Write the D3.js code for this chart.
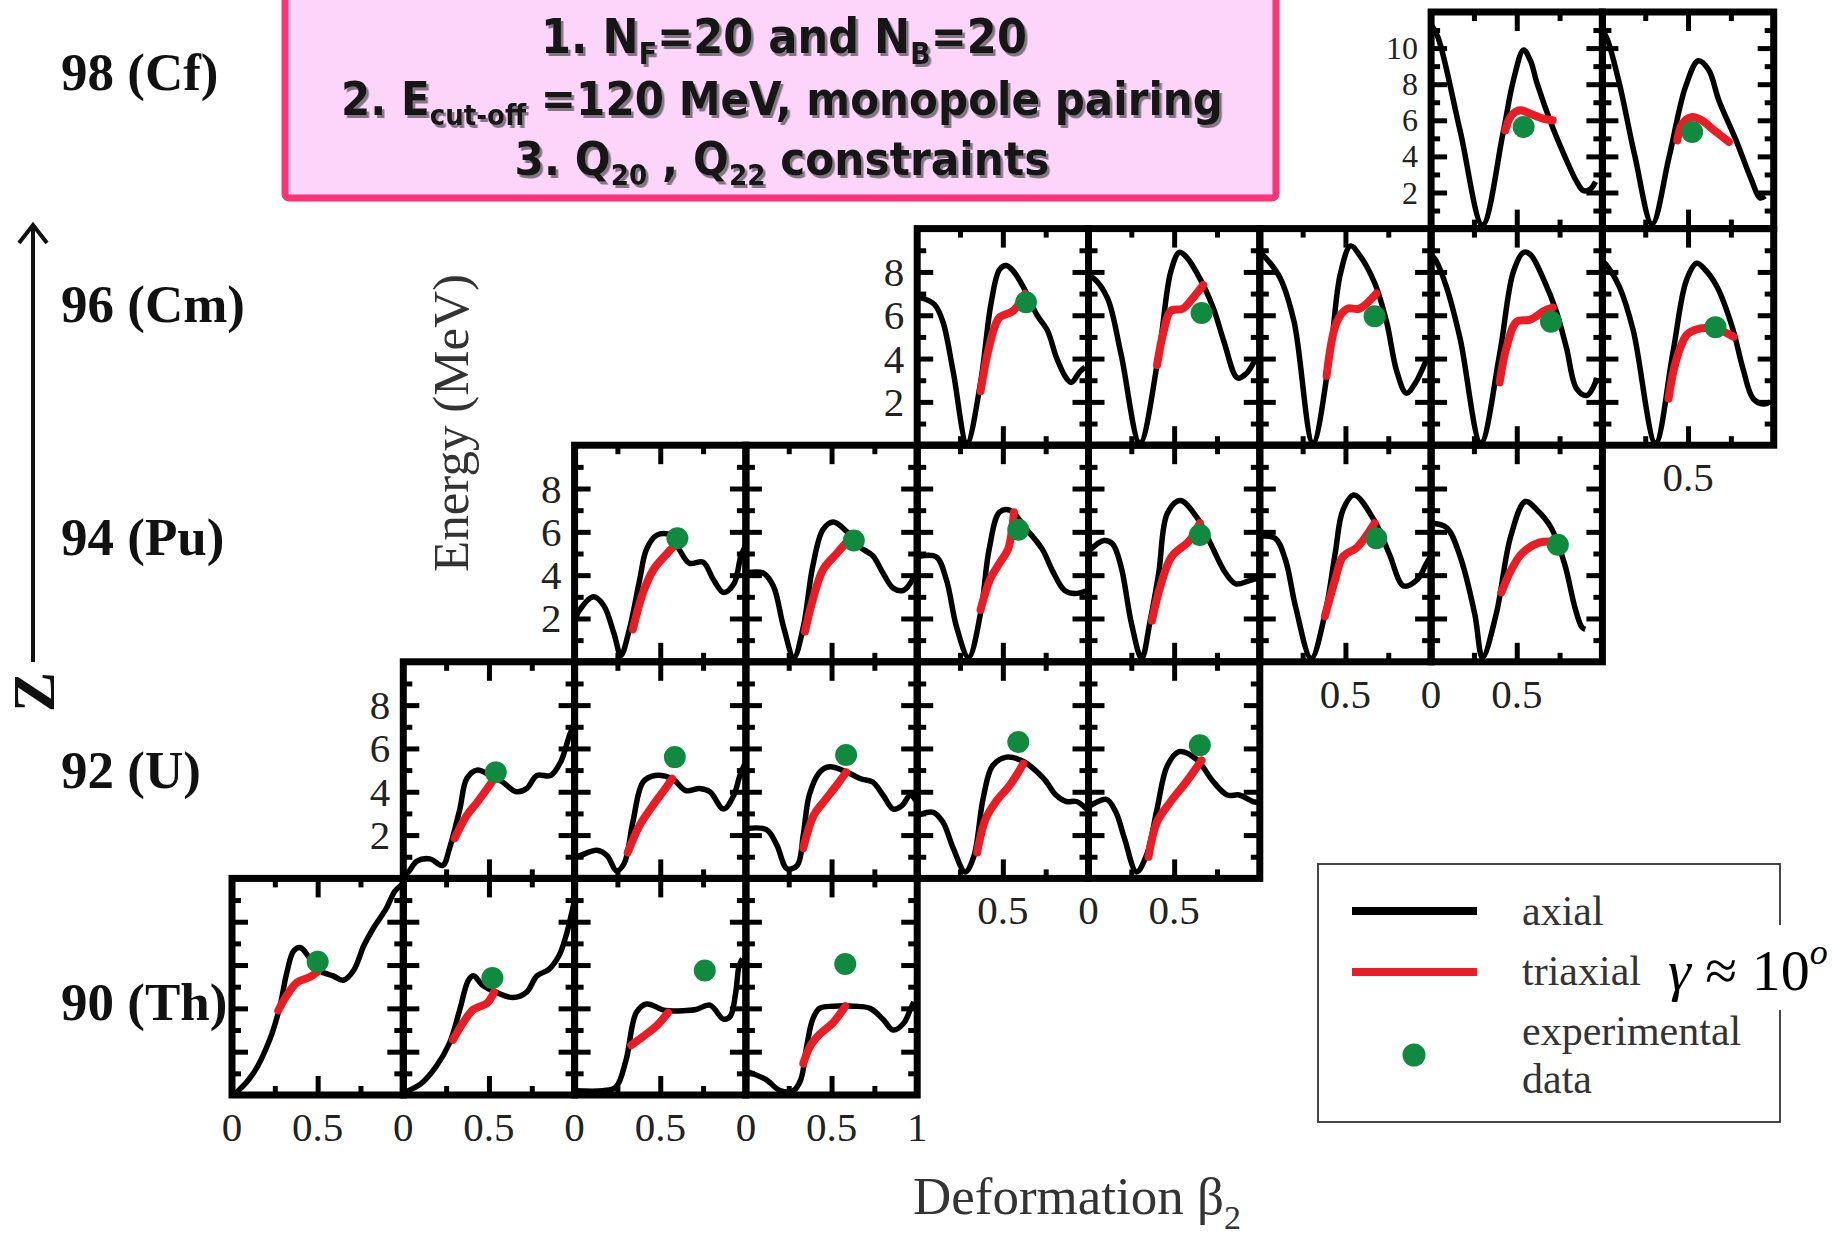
<!DOCTYPE html>
<html>
<head>
<meta charset="utf-8">
<script src="https://cdn.jsdelivr.net/npm/d3@7"></script>
<style>
  html, body { margin: 0; padding: 0; background: #fff; }
  svg { display: block; }
</style>
</head>
<body>
<svg id="chart" width="1844" height="1241"></svg>
<script>
// ---- Nuclei rows (top to bottom) ----
const rowLabels = ["98 (Cf)", "96 (Cm)", "94 (Pu)", "92 (U)", "90 (Th)"];
const rowFirstCol = [7, 4, 2, 1, 0];
const rowEnergyMax = [12, 10, 10, 10, 10];
const rowEnergyLabels = [[2, 4, 6, 8, 10], [2, 4, 6, 8], [2, 4, 6, 8], [2, 4, 6, 8], []];

// ---- Axial fission barriers, [beta2, E (MeV)] per isotope, left to right ----
const axialCf = [
  [[0,11.3],[0.04,10.6],[0.17,5.4],[0.30,0.2],[0.42,5.3],[0.48,8.2],[0.54,9.9],[0.58,9.3],[0.62,8.0],[0.71,5.6],[0.79,3.8],[0.85,2.6],[0.89,2.1],[0.93,2.2],[0.96,2.6]],
  [[0,11.0],[0.03,10.45],[0.10,8.0],[0.19,4.0],[0.29,0.25],[0.39,4.0],[0.485,7.85],[0.56,9.3],[0.62,8.8],[0.68,7.1],[0.78,4.9],[0.87,2.7],[0.92,1.7],[0.95,1.8]]
];
const axialCm = [
  [[0,6.8],[0.02,6.8],[0.10,6.5],[0.15,5.7],[0.21,3.4],[0.29,0.1],[0.37,2.9],[0.43,6.5],[0.48,8.1],[0.52,8.3],[0.56,8.05],[0.62,7.3],[0.70,6.0],[0.76,5.3],[0.815,4.0],[0.87,3.1],[0.90,2.9],[0.95,3.4],[0.98,3.6]],
  [[0,7.8],[0.03,7.7],[0.11,6.8],[0.19,4.2],[0.30,0.1],[0.41,4.2],[0.48,8.0],[0.53,8.9],[0.57,8.7],[0.65,7.7],[0.73,6.3],[0.79,4.8],[0.87,3.1],[0.92,3.3],[0.97,3.9]],
  [[0,8.9],[0.04,8.6],[0.12,7.7],[0.20,5.7],[0.31,0.1],[0.41,4.2],[0.47,7.9],[0.53,9.2],[0.58,8.8],[0.67,7.5],[0.74,5.7],[0.80,3.4],[0.856,2.4],[0.91,2.9],[0.97,3.9]],
  [[0,8.8],[0.03,8.5],[0.09,7.3],[0.17,4.9],[0.29,0.1],[0.40,4.2],[0.48,8.0],[0.54,8.9],[0.58,8.8],[0.66,7.6],[0.73,6.2],[0.79,4.5],[0.85,2.6],[0.91,2.3],[0.97,3.1]],
  [[0,8.5],[0.035,8.2],[0.10,7.3],[0.18,5.3],[0.31,0.1],[0.41,4.2],[0.49,7.6],[0.55,8.4],[0.60,8.1],[0.67,7.3],[0.76,5.4],[0.82,3.55],[0.88,2.15],[0.94,1.9],[0.98,2.0]]
];
const axialPu = [
  [[0,1.9],[0.03,2.4],[0.11,3.0],[0.17,2.6],[0.23,1.3],[0.27,0.3],[0.32,1.5],[0.38,3.8],[0.42,5.2],[0.48,5.85],[0.56,5.85],[0.61,5.2],[0.67,4.55],[0.75,4.6],[0.81,3.8],[0.87,3.2],[0.93,3.6],[0.97,4.85],[1.0,5.4]],
  [[0,4.1],[0.10,4.1],[0.16,3.5],[0.22,1.6],[0.28,0.2],[0.335,1.6],[0.39,4.4],[0.45,6.1],[0.51,6.45],[0.59,6.0],[0.665,5.3],[0.74,4.9],[0.80,4.1],[0.86,3.4],[0.92,3.3],[0.98,3.9]],
  [[0,4.85],[0.11,4.85],[0.17,3.8],[0.23,1.6],[0.30,0.2],[0.37,2.25],[0.42,5.2],[0.48,6.9],[0.54,7.0],[0.64,6.1],[0.73,5.2],[0.79,4.2],[0.86,3.3],[0.92,3.15],[1.0,3.3]],
  [[0,5.1],[0.09,5.6],[0.14,5.45],[0.19,4.4],[0.25,1.8],[0.31,0.15],[0.36,1.9],[0.41,4.1],[0.46,6.85],[0.535,7.45],[0.63,6.7],[0.71,5.5],[0.80,4.1],[0.86,3.6],[0.94,3.75],[1.0,3.9]],
  [[0,5.8],[0.09,5.7],[0.15,4.7],[0.21,2.5],[0.30,0.15],[0.38,2.2],[0.44,5.0],[0.485,7.0],[0.55,7.7],[0.67,6.5],[0.755,5.0],[0.84,3.5],[0.92,3.8],[0.97,4.5],[1.0,4.9]],
  [[0,6.4],[0.09,6.2],[0.17,4.85],[0.255,2.2],[0.30,0.2],[0.38,2.2],[0.465,5.8],[0.55,7.4],[0.62,7.0],[0.70,6.2],[0.78,4.5],[0.84,2.5],[0.88,1.6],[0.90,1.5]]
];
const axialU = [
  [[0,0.1],[0.03,0.3],[0.08,0.8],[0.155,0.9],[0.23,0.6],[0.27,1.4],[0.33,3.2],[0.37,4.6],[0.43,5.0],[0.51,4.75],[0.58,4.45],[0.66,4.0],[0.72,4.15],[0.78,4.75],[0.86,4.75],[0.92,5.4],[0.97,6.6],[1.0,7.2]],
  [[0,1.0],[0.03,1.05],[0.13,1.3],[0.19,1.05],[0.245,0.35],[0.29,0.7],[0.34,2.6],[0.40,4.45],[0.47,4.75],[0.57,4.6],[0.65,4.05],[0.73,4.15],[0.79,4.0],[0.87,3.2],[0.93,3.85],[0.965,4.75],[1.0,5.4]],
  [[0,2.3],[0.12,2.25],[0.18,1.55],[0.24,0.45],[0.30,0.6],[0.335,2.0],[0.37,3.85],[0.43,4.9],[0.49,5.15],[0.59,4.9],[0.67,4.6],[0.74,4.45],[0.80,3.85],[0.86,3.2],[0.91,3.35],[0.96,3.85],[0.99,3.6]],
  [[0,2.9],[0.094,3.05],[0.15,2.6],[0.21,1.4],[0.28,0.3],[0.33,1.0],[0.385,3.7],[0.44,5.2],[0.52,5.6],[0.62,5.4],[0.74,4.6],[0.81,3.85],[0.87,3.55],[0.93,3.55],[0.99,3.2]],
  [[0,3.3],[0.105,3.65],[0.16,3.05],[0.21,1.85],[0.28,0.3],[0.34,1.1],[0.40,3.2],[0.46,5.2],[0.53,5.85],[0.63,5.5],[0.73,4.45],[0.81,3.85],[0.88,3.85],[0.96,3.55],[1.0,3.5]]
];
const axialTh = [
  [[0,0],[0.03,0.15],[0.125,1.0],[0.22,2.55],[0.28,4.1],[0.32,5.65],[0.36,6.65],[0.40,6.8],[0.455,6.3],[0.51,5.75],[0.59,5.5],[0.65,5.3],[0.71,5.75],[0.77,6.9],[0.825,7.7],[0.90,8.6],[0.95,9.4],[0.99,9.7]],
  [[0,0.1],[0.10,0.5],[0.19,1.3],[0.27,2.4],[0.33,3.95],[0.38,5.3],[0.41,5.5],[0.465,5.05],[0.54,4.75],[0.64,4.5],[0.72,4.75],[0.78,5.5],[0.85,5.8],[0.91,6.45],[0.95,7.35],[0.98,8.3],[1.0,9.0]],
  [[0,0.2],[0.165,0.2],[0.24,0.35],[0.30,1.6],[0.36,3.8],[0.42,4.2],[0.53,3.9],[0.65,3.9],[0.71,3.95],[0.79,4.15],[0.87,3.5],[0.91,3.65],[0.94,4.7],[0.96,5.95],[0.98,6.3]],
  [[0,1.1],[0.035,1.0],[0.12,0.7],[0.20,0.2],[0.277,0.2],[0.32,0.7],[0.355,2.25],[0.39,3.5],[0.43,4.0],[0.51,4.1],[0.63,4.1],[0.725,4.0],[0.80,3.5],[0.86,3.0],[0.92,3.3],[0.96,3.95],[0.98,4.3]]
];

// ---- Triaxial (gamma ~ 10 deg) paths around the inner barrier ----
const triaxialCf = [
  [[0.433,5.44],[0.47,6.28],[0.52,6.56],[0.577,6.37],[0.654,6.09],[0.71,6.0]],
  [[0.437,4.89],[0.466,5.8],[0.524,6.18],[0.58,6.0],[0.64,5.54],[0.738,4.8]]
];
const triaxialCm = [
  [[0.37,2.5],[0.41,4.2],[0.45,5.4],[0.48,5.9],[0.56,6.2],[0.63,7.0]],
  [[0.40,3.7],[0.44,5.3],[0.48,6.2],[0.55,6.3],[0.61,6.8],[0.67,7.4]],
  [[0.39,3.2],[0.45,5.7],[0.51,6.3],[0.58,6.3],[0.68,7.0]],
  [[0.40,2.9],[0.44,4.5],[0.50,5.7],[0.58,5.8],[0.66,6.2],[0.71,6.35]],
  [[0.386,2.15],[0.43,3.9],[0.493,5.1],[0.55,5.35],[0.67,5.35],[0.766,5.0]]
];
const triaxialPu = [
  [[0.34,1.5],[0.40,3.2],[0.46,4.25],[0.54,5.0],[0.60,5.5]],
  [[0.345,1.4],[0.39,2.85],[0.45,4.25],[0.53,5.0],[0.58,5.45]],
  [[0.37,2.4],[0.425,3.8],[0.48,4.55],[0.53,5.2],[0.55,5.9],[0.565,6.9]],
  [[0.37,1.9],[0.42,3.5],[0.485,4.85],[0.59,5.6],[0.65,6.4]],
  [[0.38,2.1],[0.44,3.8],[0.485,4.85],[0.57,5.3],[0.67,6.4]],
  [[0.41,3.2],[0.465,4.2],[0.53,5.0],[0.63,5.5],[0.72,5.55]]
];
const triaxialU = [
  [[0.30,1.85],[0.37,2.9],[0.43,3.5],[0.49,4.15],[0.53,4.6]],
  [[0.31,1.2],[0.38,2.45],[0.46,3.4],[0.53,4.15],[0.57,4.6]],
  [[0.335,1.4],[0.395,2.9],[0.45,3.5],[0.53,4.3],[0.585,4.9]],
  [[0.35,1.2],[0.40,2.75],[0.46,3.55],[0.54,4.3],[0.62,5.3]],
  [[0.35,1.0],[0.40,2.6],[0.48,3.55],[0.57,4.45],[0.66,5.45]]
];
const triaxialTh = [
  [[0.27,3.9],[0.32,4.6],[0.38,5.2],[0.455,5.45],[0.50,5.7]],
  [[0.29,2.55],[0.35,3.35],[0.41,3.95],[0.49,4.25],[0.53,4.75]],
  [[0.33,2.3],[0.40,2.7],[0.48,3.2],[0.545,3.8]],
  [[0.335,1.45],[0.375,2.25],[0.43,2.8],[0.51,3.35],[0.58,4.1]]
];

// ---- Experimental inner barrier heights, [beta2, E] ----
const exptCf = [[0.54,5.63],[0.524,5.35]];
const exptCm = [[0.635,6.6],[0.66,6.1],[0.67,5.95],[0.70,5.7],[0.66,5.45]];
const exptPu = [[0.60,5.7],[0.63,5.6],[0.59,6.1],[0.65,5.85],[0.68,5.7],[0.74,5.4]];
const exptU  = [[0.54,4.9],[0.585,5.6],[0.585,5.7],[0.59,6.3],[0.65,6.15]];
const exptTh = [[0.50,6.15],[0.52,5.4],[0.76,5.75],[0.58,6.05]];

// ---- Beta2 tick labels under exposed panel bottoms: [row, col, beta2, text] ----
const betaTickLabels = [
  [4,0,0,"0"],[4,0,0.5,"0.5"],[4,1,0,"0"],[4,1,0.5,"0.5"],[4,2,0,"0"],[4,2,0.5,"0.5"],[4,3,0,"0"],[4,3,0.5,"0.5"],[4,3,1,"1"],
  [3,4,0.5,"0.5"],[3,5,0,"0"],[3,5,0.5,"0.5"],
  [2,6,0.5,"0.5"],[2,7,0,"0"],[2,7,0.5,"0.5"],
  [1,8,0.5,"0.5"]
];

// ---- Legend entries ----
const legendItems = ["axial", "triaxial", "experimental", "data"];

// ---- Settings box lines ----
const noteLines = [
  [["1. N"],["F","sub"],["=20 and N"],["B","sub"],["=20"]],
  [["2. E"],["cut-off","sub"],[" =120 MeV, monopole pairing"]],
  [["3. Q"],["20","sub"],[" , Q"],["22","sub"],[" constraints"]]
];

// =====================================================================
const rowAxial = [axialCf, axialCm, axialPu, axialU, axialTh];
const rowTri   = [triaxialCf, triaxialCm, triaxialPu, triaxialU, triaxialTh];
const rowExpt  = [exptCf, exptCm, exptPu, exptU, exptTh];

const svg = d3.select("#chart");
const left0 = 232, top0 = 12, pw = 171.3, ph = 216.6;
const serif = "Liberation Serif, 'Times New Roman', serif";
const BLACK = "#000", RED = "#ec1c24", GREEN = "#0f8a3f";

const defs = svg.append("defs");
const shadow = defs.append("filter").attr("id", "textShadow")
  .attr("x", "-5%").attr("y", "-20%").attr("width", "110%").attr("height", "150%");
shadow.append("feDropShadow").attr("dx", 2.5).attr("dy", 3).attr("stdDeviation", 0.7)
  .attr("flood-color", "#7d717d").attr("flood-opacity", 0.95);

const curveLayer = svg.append("g");
const frameLayer = svg.append("g");
const textLayer = svg.append("g");

const scalesFor = (r, c) => {
  const px = left0 + c * pw, py = top0 + r * ph;
  return {
    px, py,
    x: d3.scaleLinear().domain([0, 1]).range([px, px + pw]),
    y: d3.scaleLinear().domain([0, rowEnergyMax[r]]).range([py + ph, py])
  };
};

const pathGen = (xs, ys) => d3.line()
  .x(d => xs(d[0])).y(d => ys(d[1]))
  .curve(d3.curveCatmullRom.alpha(0.5));

function styleTicks(sel) {
  sel.select(".domain").remove();
  sel.selectAll(".tick line").attr("stroke", BLACK).attr("stroke-width", 5);
  sel.selectAll(".tick text").remove();
}

rowLabels.forEach((label, r) => {
  const emax = rowEnergyMax[r];
  const majorE = d3.range(2, emax, 2);
  const minorE = d3.range(1, emax, 2);
  rowAxial[r].forEach((pts, i) => {
    const c = rowFirstCol[r] + i;
    const s = scalesFor(r, c);
    const id = `clip-${r}-${c}`;
    defs.append("clipPath").attr("id", id)
      .append("rect").attr("x", s.px).attr("y", s.py).attr("width", pw).attr("height", ph);

    const g = curveLayer.append("g").attr("clip-path", `url(#${id})`);
    g.append("path").attr("d", pathGen(s.x, s.y)(pts))
      .attr("fill", "none").attr("stroke", BLACK).attr("stroke-width", 5.5)
      .attr("stroke-linejoin", "round");
    g.append("path").attr("d", pathGen(s.x, s.y)(rowTri[r][i]))
      .attr("fill", "none").attr("stroke", RED).attr("stroke-width", 8)
      .attr("stroke-linecap", "round").attr("stroke-linejoin", "round");
    const e = rowExpt[r][i];
    curveLayer.append("circle").attr("cx", s.x(e[0])).attr("cy", s.y(e[1]))
      .attr("r", 11).attr("fill", GREEN);

    // frame with inward ticks on all four sides
    const f = frameLayer.append("g");
    f.append("g").attr("transform", `translate(0,${s.py + ph})`)
      .call(d3.axisBottom(s.x).tickValues([0.5]).tickSize(-19)).call(styleTicks);
    f.append("g").attr("transform", `translate(0,${s.py + ph})`)
      .call(d3.axisBottom(s.x).tickValues([0.25, 0.75]).tickSize(-9)).call(styleTicks);
    f.append("g").attr("transform", `translate(0,${s.py})`)
      .call(d3.axisTop(s.x).tickValues([0.5]).tickSize(-19)).call(styleTicks);
    f.append("g").attr("transform", `translate(0,${s.py})`)
      .call(d3.axisTop(s.x).tickValues([0.25, 0.75]).tickSize(-9)).call(styleTicks);
    f.append("g").attr("transform", `translate(${s.px},0)`)
      .call(d3.axisLeft(s.y).tickValues(majorE).tickSize(-16)).call(styleTicks);
    f.append("g").attr("transform", `translate(${s.px},0)`)
      .call(d3.axisLeft(s.y).tickValues(minorE).tickSize(-9)).call(styleTicks);
    f.append("g").attr("transform", `translate(${s.px + pw},0)`)
      .call(d3.axisRight(s.y).tickValues(majorE).tickSize(-16)).call(styleTicks);
    f.append("g").attr("transform", `translate(${s.px + pw},0)`)
      .call(d3.axisRight(s.y).tickValues(minorE).tickSize(-9)).call(styleTicks);
    f.append("rect").attr("x", s.px).attr("y", s.py).attr("width", pw).attr("height", ph)
      .attr("fill", "none").attr("stroke", BLACK).attr("stroke-width", 7);
  });

  // energy tick labels left of the first panel of the row
  // (the taller Cf scale packs its labels closer, so they are set a little smaller)
  const s0 = scalesFor(r, rowFirstCol[r]);
  const labelSize = emax > 10 ? 32 : 41;
  rowEnergyLabels[r].forEach(v => {
    textLayer.append("text").attr("x", s0.px - 13).attr("y", s0.y(v))
      .attr("text-anchor", "end").attr("dominant-baseline", "central")
      .attr("font-family", serif).attr("font-size", labelSize).attr("fill", "#222").text(v);
  });
});

// row labels (proton number)
const rowLabelBaselines = [90, 322, 555, 788, 1020];
rowLabels.forEach((label, r) => {
  textLayer.append("text").attr("x", 61).attr("y", rowLabelBaselines[r])
    .attr("font-family", serif).attr("font-weight", "bold").attr("font-size", 53)
    .attr("fill", "#111").text(label);
});

// beta2 tick labels
betaTickLabels.forEach(([r, c, b, t]) => {
  const s = scalesFor(r, c);
  textLayer.append("text").attr("x", s.x(b)).attr("y", s.py + ph + 46)
    .attr("text-anchor", "middle").attr("font-family", serif).attr("font-size", 41)
    .attr("fill", "#222").text(t);
});

// Z axis arrow
textLayer.append("line").attr("x1", 33).attr("x2", 33).attr("y1", 662).attr("y2", 226)
  .attr("stroke", "#111").attr("stroke-width", 4);
textLayer.append("polyline").attr("points", "19,243 33,225 47,243")
  .attr("fill", "none").attr("stroke", "#111").attr("stroke-width", 4);
textLayer.append("text").attr("transform", "translate(54,692) rotate(-90)")
  .attr("text-anchor", "middle").attr("font-family", serif).attr("font-weight", "bold")
  .attr("font-size", 60).attr("fill", "#111").text("Z");

// axis titles
textLayer.append("text").attr("transform", "translate(468,423) rotate(-90)")
  .attr("text-anchor", "middle").attr("font-family", serif).attr("font-size", 51)
  .attr("fill", "#333").text("Energy (MeV)");
const xt = textLayer.append("text").attr("x", 913).attr("y", 1214)
  .attr("font-family", serif).attr("font-size", 53).attr("fill", "#333");
xt.append("tspan").text("Deformation β");
xt.append("tspan").attr("font-size", 34).attr("dy", 15).text("2");

// legend
const lg = textLayer.append("g");
lg.append("rect").attr("x", 1318).attr("y", 864).attr("width", 462).attr("height", 258)
  .attr("fill", "#fff").attr("stroke", "#333").attr("stroke-width", 1.8);
lg.append("line").attr("x1", 1352).attr("x2", 1477).attr("y1", 911).attr("y2", 911)
  .attr("stroke", BLACK).attr("stroke-width", 8);
lg.append("line").attr("x1", 1352).attr("x2", 1477).attr("y1", 972).attr("y2", 972)
  .attr("stroke", RED).attr("stroke-width", 8);
lg.append("circle").attr("cx", 1414).attr("cy", 1055).attr("r", 11.5).attr("fill", GREEN);
[[legendItems[0], 925], [legendItems[1], 985], [legendItems[2], 1045], [legendItems[3], 1093]]
  .forEach(([t, y]) => {
    lg.append("text").attr("x", 1522).attr("y", y).attr("font-family", serif)
      .attr("font-size", 42).attr("fill", "#333").text(t);
  });
lg.append("rect").attr("x", 1662).attr("y", 925).attr("width", 175).attr("height", 85).attr("fill", "#fff");
const gam = lg.append("text").attr("x", 1668).attr("y", 990).attr("font-family", serif)
  .attr("font-size", 58).attr("fill", "#000");
gam.append("tspan").attr("font-style", "italic").text("γ");
gam.append("tspan").text(" ≈ 10");
gam.append("tspan").attr("font-style", "italic").attr("font-size", 36).attr("dy", -26).text("o");

// settings box: a condensed bold face sized so each line spans its width
const box = svg.append("g");
box.append("rect").attr("x", 285).attr("y", -12).attr("width", 991).attr("height", 210).attr("rx", 4)
  .attr("fill", "#fdd5fb").attr("stroke", "#fe3377").attr("stroke-width", 7);
const noteTargets = [[784, 53, 486], [782, 115, 882], [782, 175, 535]];
noteLines.forEach((parts, k) => {
  const [cx, base, w] = noteTargets[k];
  const t = box.append("text").attr("x", cx).attr("y", base).attr("text-anchor", "middle")
    .attr("font-family", "DejaVu Sans Condensed, DejaVu Sans, sans-serif")
    .attr("font-stretch", "condensed").attr("font-weight", "bold")
    .attr("fill", "#141414").attr("filter", "url(#textShadow)");
  const draw = size => {
    t.selectAll("tspan").remove();
    t.attr("font-size", size);
    let shifted = false;
    parts.forEach(([txt, kind]) => {
      const ts = t.append("tspan").text(txt);
      if (kind === "sub") { ts.attr("font-size", size * 0.62).attr("dy", size * 0.22); shifted = true; }
      else if (shifted) { ts.attr("dy", -size * 0.22); shifted = false; }
    });
  };
  draw(54);
  const mw = t.node().getComputedTextLength();
  draw(Math.min(58, 54 * w / mw));
});
</script>
</body>
</html>
